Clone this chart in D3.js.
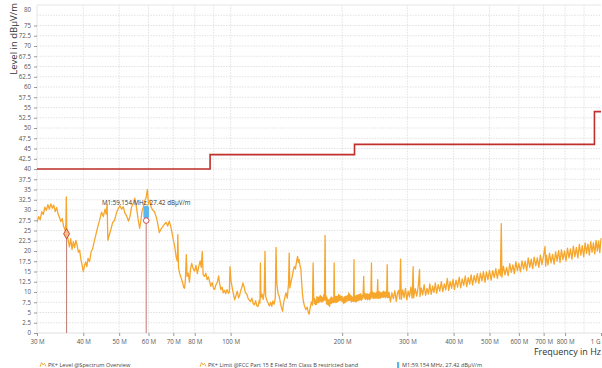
<!DOCTYPE html>
<html><head><meta charset="utf-8">
<script src="https://cdn.jsdelivr.net/npm/d3@7"></script>
<style>
body{margin:0;background:#fff}
svg{display:block}
text{font-family:"Open Sans","Noto Sans",sans-serif}
</style>
</head><body>
<svg id="chart" width="602" height="368"></svg>
<script>
// ---------- data ----------
const xTickValues = [30, 40, 50, 60, 70, 80, 100, 200, 300, 400, 500, 600, 700, 800, 1000];
const xTickLabels = ["30 M", "40 M", "50 M", "60 M", "70 M", "80 M", "100 M", "200 M", "300 M", "400 M", "500 M", "600 M", "700 M", "800 M", "1 G"];
const xGridValues = [40, 50, 60, 70, 80, 90, 100, 200, 300, 400, 500, 600, 700, 800, 900];
const yTickValues = [0, 2.5, 5, 7.5, 10, 12.5, 15, 17.5, 20, 22.5, 25, 27.5, 30, 32.5, 35, 37.5, 40, 42.5, 45, 47.5, 50, 52.5, 55, 57.5, 60, 62.5, 65, 67.5, 70, 72.5, 75];
const yTopLabel = 80;
const yGridValues = [2.5, 5, 7.5, 10, 12.5, 15, 17.5, 20, 22.5, 25, 27.5, 30, 32.5, 35, 37.5, 40, 42.5, 45, 47.5, 50, 52.5, 55, 57.5, 60, 62.5, 65, 67.5, 70, 72.5, 75, 77.5];

const limitFreq  = [30, 88, 88, 216, 216, 960, 960, 1000];
const limitLevel = [40, 40, 43.5, 43.5, 46, 46, 54, 54];

const markerFreq  = [36.06, 59.154];
const markerLevel = [24.2, 27.42];
const m1Label = "M1:59.154 MHz, 27.42 dBμV/m";
const m1BarLevels = [28.0, 31.0];

const legendLabels = ["PK+ Level @Spectrum Overview", "PK+ Limit @FCC Part 15 E Field 3m Class B  restricted band", "M1:59.154 MHz, 27.42 dBμV/m"];

const trace = [
[30.0,27.0],[30.3,28.4],[30.6,27.6],[30.9,29.6],[31.2,28.9],[31.5,30.7],[31.8,29.9],[32.1,31.3],[32.4,30.2],[32.7,31.5],[33.0,30.4],[33.3,31.2],[33.6,29.6],[33.9,30.6],[34.2,29.0],[34.5,28.2],[34.8,27.2],[35.1,27.9],[35.4,26.0],[35.7,25.1],[35.9,26.4],[36.0,33.2],[36.1,24.2],[36.4,22.8],[36.7,21.0],[37.0,23.0],[37.3,20.4],[37.6,22.3],[37.9,20.8],[38.2,22.6],[38.5,21.4],[38.8,19.7],[39.1,20.2],[39.4,18.0],[39.7,16.6],[40.0,15.0],[40.3,16.4],[40.6,17.3],[40.9,16.2],[41.2,18.2],[41.6,17.4],[42.0,19.8],[42.4,20.6],[42.9,22.6],[43.3,24.1],[43.8,26.0],[44.3,27.6],[44.8,29.5],[45.3,28.4],[45.8,30.2],[46.1,29.0],[46.4,31.4],[46.6,22.6],[47.0,23.9],[47.5,25.3],[48.0,26.9],[48.6,27.5],[49.2,29.4],[49.7,30.3],[50.2,31.0],[50.8,30.2],[51.3,30.8],[51.8,29.3],[52.4,28.5],[53.0,27.3],[53.5,28.5],[54.0,30.7],[54.5,31.5],[55.1,32.9],[55.6,31.0],[56.2,28.0],[56.8,25.5],[57.2,27.2],[57.6,29.6],[58.1,30.7],[58.6,32.2],[59.1,33.0],[59.6,35.0],[60.0,31.4],[60.5,32.4],[61.0,30.7],[61.6,30.0],[62.3,29.5],[63.0,28.2],[63.6,26.5],[64.2,24.5],[64.8,25.3],[65.5,25.9],[66.2,26.5],[66.9,27.0],[67.6,26.1],[68.3,27.3],[69.0,25.7],[69.6,24.0],[70.1,22.5],[70.7,20.8],[71.3,18.4],[71.8,17.5],[72.0,24.0],[72.3,16.0],[72.8,14.6],[73.5,13.4],[74.2,12.3],[74.7,11.1],[75.1,10.9],[75.5,13.2],[75.9,19.1],[76.3,13.8],[76.8,14.6],[77.4,12.4],[77.9,15.6],[78.5,17.0],[79.2,15.7],[79.9,15.1],[80.6,16.5],[81.3,14.5],[82.0,16.2],[82.7,17.6],[83.3,16.0],[83.8,19.9],[84.3,14.2],[85.0,13.8],[85.7,14.6],[86.4,13.0],[87.1,13.7],[87.7,12.6],[88.4,11.4],[89.2,12.3],[89.9,10.8],[90.5,10.6],[91.2,11.7],[92.0,12.3],[92.8,13.9],[93.4,12.0],[94.1,10.6],[94.8,11.2],[95.5,9.8],[96.2,10.4],[97.0,9.6],[97.8,10.6],[98.6,9.7],[99.2,10.0],[99.6,16.2],[100.2,12.8],[101.0,11.0],[101.8,9.4],[102.5,8.1],[103.3,9.1],[104.2,10.2],[105.0,8.6],[105.7,9.1],[106.5,10.4],[107.3,11.2],[107.9,12.2],[108.7,11.3],[109.6,9.8],[110.6,9.5],[111.5,8.4],[112.3,8.0],[113.2,7.7],[114.1,8.5],[115.0,7.2],[115.9,6.9],[116.8,7.9],[117.7,6.6],[118.6,6.5],[119.5,8.0],[120.0,7.3],[120.3,17.1],[120.7,8.6],[121.6,9.5],[122.4,8.2],[123.2,9.9],[123.8,19.9],[124.3,9.0],[125.2,8.0],[126.2,7.3],[127.2,6.6],[128.2,7.5],[129.1,6.5],[130.0,7.8],[131.0,7.0],[132.0,8.6],[132.6,20.9],[133.2,12.2],[134.3,9.6],[135.3,8.9],[136.5,7.0],[137.3,6.0],[138.1,5.3],[139.0,7.4],[140.0,8.6],[141.0,9.8],[142.2,8.5],[143.3,12.0],[143.9,19.5],[144.5,11.0],[145.6,12.6],[146.8,14.0],[147.7,15.4],[148.5,16.2],[149.6,15.6],[150.6,17.4],[151.6,18.7],[152.4,17.2],[153.1,17.9],[153.9,16.4],[154.7,15.8],[155.5,12.3],[156.2,9.8],[157.0,8.0],[158.0,6.8],[159.5,5.7],[161.0,6.3],[162.0,5.0],[162.9,4.6],[164.0,6.2],[165.2,7.6],[166.3,6.8],[167.0,17.1],
[167.6,8.6],[168.2,7.2],[168.8,8.4],[169.3,6.9],[169.8,7.9],[170.4,7.0],[171.0,8.9],[171.6,7.4],[172.2,8.6],[172.8,7.4],[173.4,8.8],[174.0,7.6],[174.6,9.2],[175.2,7.8],[175.8,8.9],[176.4,7.5],[177.0,8.7],[177.7,7.8],[178.5,9.4],[179.2,8.0],[179.9,23.8],[180.4,8.0],[181.0,9.1],[181.5,7.1],[182.0,8.6],[182.6,7.0],[183.2,8.2],[183.8,6.8],[184.4,8.0],[185.0,6.5],[185.6,8.4],[186.2,7.2],[186.8,8.8],[187.4,7.3],[188.0,8.6],[188.6,7.5],[189.2,8.3],[189.8,7.4],[190.3,17.1],[190.8,7.6],[191.5,8.9],[192.2,7.4],[192.9,8.9],[193.6,7.5],[194.3,9.0],[195.0,7.7],[195.7,9.4],[196.4,7.9],[197.1,9.2],[197.8,8.0],[198.5,9.0],[199.2,7.8],[199.9,8.9],[200.6,7.6],[201.3,8.5],[202.0,7.2],[202.7,8.8],[203.4,7.4],[204.1,8.9],[204.8,7.6],[205.5,9.0],[206.3,7.8],[207.0,9.2],[207.7,8.0],[208.4,9.8],[209.1,7.9],[209.8,9.4],[210.5,8.0],[211.2,9.1],[211.9,7.6],[212.6,8.9],[213.3,7.8],[214.0,8.6],[214.7,7.7],[215.3,17.9],[215.8,7.8],[216.6,9.0],[217.4,7.6],[218.2,9.1],[219.0,7.7],[219.8,9.3],[220.6,7.9],[221.4,9.3],[222.2,8.0],[223.0,9.4],[223.8,8.1],[224.6,9.6],[225.4,8.0],[226.2,9.2],[227.0,8.3],[227.8,9.2],[228.7,13.8],[229.4,8.6],[230.2,9.7],[231.0,8.2],[231.8,9.5],[232.6,8.4],[233.4,9.6],[234.2,8.1],[235.0,9.4],[235.8,8.3],[236.6,9.5],[237.4,8.1],[238.2,9.8],[239.0,8.4],[240.0,17.1],[240.6,8.8],[241.4,10.0],[242.2,8.5],[243.0,9.8],[243.8,8.4],[244.6,9.8],[245.4,8.6],[246.2,9.6],[247.0,8.5],[247.8,9.9],[248.6,8.6],[249.5,13.0],[250.3,8.4],[251.1,10.1],[251.9,8.6],[252.7,10.0],[253.5,8.5],[254.3,9.8],[255.1,8.7],[255.9,9.8],[256.7,8.8],[257.5,10.0],[258.3,8.7],[259.1,10.2],[259.9,8.9],[260.7,9.9],[261.5,8.6],[262.3,10.0],[263.1,8.8],[263.9,10.1],[264.7,16.7],[265.4,8.6],[266.2,9.9],[267.0,8.7],[267.8,9.9],[268.8,8.8],
[270,7.6],[272.5,9.8],[275,8.4],[277.5,10.3],[280,7.7],[282,9.6],[284,10.4],[286,8.3],[287.6,18.0],[289,8.2],[291.5,10.5],[294,8.6],[296.5,10.9],[299,8.1],[301.5,10.2],[304,8.8],[306.5,11.2],[309,8.5],[311,16.2],[312,8.6],[315,10.8],[318,9.0],[321,11.4],[323.6,15.5],[324.5,8.9],[327,11.0],[330,9.3],[333,11.8],[336,9.2],[339,10.9],[342,9.5],[345,12.0],[348,9.4],[351,11.4],[354,9.9],[357,12.2],[360,9.7],[363.5,11.8],[367,10.2],[370.5,12.5],[374,10.1],[377.5,12.0],[381,10.5],[384.5,13.3],[388,10.4],[391.5,12.6],[395,10.9],[398.5,13.1],[402,10.6],[406,12.9],[410,11.2],[414,13.6],[418,11.0],[422,13.2],[426,11.6],[430,13.9],[434,11.3],[438,13.5],[442,11.9],[446,14.2],[450,11.7],[454.5,14.0],[459,12.3],[463.5,14.5],[468,12.1],[472.5,14.6],[477,12.7],[481.5,15.0],[486,12.4],[490.5,14.9],[495,13.0],[500,15.3],[505,12.9],[510,15.2],[515,13.5],[520,15.7],[525,13.3],[530,15.5],[535,14.0],[538,26.7],[540,13.6],[545,16.3],[550.5,14.2],[556,16.0],[561.5,14.0],[567,16.9],[572.5,14.8],[578,16.6],[583.5,14.5],[589,17.4],[594.5,15.2],[600,17.0],[606,14.9],[612,17.6],[618,15.6],[624,17.5],[630,15.2],[636,18.3],[642,16.0],[648,18.0],[654,15.7],[660,18.5],[666.5,16.4],[673,18.3],[679.5,16.0],[686,19.0],[692.5,16.7],[699,18.6],[706,21.1],[709,16.3],[712,19.0],[719,16.6],[726,19.5],[733,17.1],[740,19.2],[747,16.8],[754,19.8],[761,17.5],[768,20.1],[775,17.2],[782,20.3],[789.5,17.9],[797,20.0],[804.5,17.6],[812,20.7],[819.5,18.3],[827,20.5],[834.5,18.0],[842,21.2],[850,18.6],[858,20.9],[866,18.3],[874,21.6],[882,19.0],[890,21.3],[898,18.6],[906,22.0],[914,19.4],[922,21.7],[930,19.0],[938,22.3],[946,19.7],[954,22.0],[962,19.3],[970,22.6],[977.5,20.0],[985,22.4],[992.5,19.6],[1000,23.1]
];

// ---------- drawing ----------
const svg = d3.select("#chart");
const x = d3.scaleLog().domain([30, 1000]).range([37, 601]);
const y = d3.scaleLinear().domain([0, 80]).range([333, 5]);

const gridColor = "#e2e2e2";
svg.append("g").selectAll("line").data(yGridValues).join("line")
  .attr("x1", x(30)).attr("x2", x(1000))
  .attr("y1", d => y(d)).attr("y2", d => y(d))
  .attr("stroke", gridColor).attr("stroke-dasharray", "1.5,1.2");
svg.append("g").selectAll("line").data(xGridValues).join("line")
  .attr("x1", d => x(d)).attr("x2", d => x(d))
  .attr("y1", y(0)).attr("y2", y(80))
  .attr("stroke", gridColor).attr("stroke-dasharray", "1.5,1.2");
svg.append("line").attr("x1", x(30)).attr("x2", x(1000)).attr("y1", y(80)).attr("y2", y(80)).attr("stroke", "#e6e6e6");
svg.append("line").attr("x1", x(30)).attr("x2", x(1000)).attr("y1", y(0)).attr("y2", y(0)).attr("stroke", "#e0e0e0");
svg.append("line").attr("x1", x(30)).attr("x2", x(30)).attr("y1", y(0)).attr("y2", y(80)).attr("stroke", "#e6e6e6");

// y axis
const yAxis = svg.append("g").attr("transform", `translate(${x(30)},0)`)
  .call(d3.axisLeft(y).tickValues(yTickValues).tickSize(3).tickPadding(3).tickFormat(d => String(d)));
yAxis.select(".domain").remove();
yAxis.selectAll(".tick line").attr("stroke", "#9a9a9a");
yAxis.selectAll(".tick text").attr("font-size", 6.2).attr("fill", "#555").attr("font-family", "Open Sans, Noto Sans, sans-serif");
svg.append("text").attr("x", x(30) - 6).attr("y", y(yTopLabel) + 4.7).attr("dy", "0.32em")
  .attr("text-anchor", "end").attr("font-size", 6.2).attr("fill", "#555").text(String(yTopLabel));

// x axis
const xAxis = svg.append("g").attr("transform", `translate(0,${y(0)})`)
  .call(d3.axisBottom(x).tickValues(xTickValues).tickSize(3).tickPadding(4)
    .tickFormat((d, i) => xTickLabels[i]));
xAxis.select(".domain").remove();
xAxis.selectAll(".tick line").attr("stroke", "#9a9a9a");
xAxis.selectAll(".tick text").attr("font-size", 6.2).attr("fill", "#555").attr("font-family", "Open Sans, Noto Sans, sans-serif");
xAxis.selectAll(".tick text").filter(d => d === 1000).attr("text-anchor", "end").attr("dx", -1);

// axis titles
svg.append("text").attr("transform", "translate(17,3) rotate(-90)")
  .attr("text-anchor", "end").attr("font-size", 9.5).attr("fill", "#333").text("Level in dBμV/m");
svg.append("text").attr("x", 601).attr("y", 355).attr("text-anchor", "end")
  .attr("font-size", 9).attr("fill", "#333").text("Frequency in Hz");

svg.append("clipPath").attr("id", "plotclip").append("rect")
  .attr("x", x(30)).attr("y", y(80)).attr("width", x(1000) - x(30) + 1).attr("height", y(0) - y(80));

// limit line
const limitData = limitFreq.map((f, i) => [f, limitLevel[i]]);
svg.append("path").datum(limitData)
  .attr("d", d3.line().x(d => x(d[0])).y(d => y(d[1])))
  .attr("fill", "none").attr("stroke", "#bf2f2b").attr("stroke-width", 1.6);

// trace
svg.append("path").datum(trace).attr("clip-path", "url(#plotclip)")
  .attr("d", d3.line().x(d => x(d[0])).y(d => y(d[1])))
  .attr("fill", "none").attr("stroke", "#f7a62c").attr("stroke-width", 1.3)
  .attr("stroke-linejoin", "round");

// marker lines
svg.append("g").selectAll("line").data(markerFreq).join("line")
  .attr("x1", d => x(d)).attr("x2", d => x(d))
  .attr("y1", (d, i) => y(markerLevel[i])).attr("y2", y(0))
  .attr("stroke", "#bf7a74").attr("stroke-width", 1);

svg.append("path")
  .attr("d", d3.symbol().type(d3.symbolDiamond).size(30)())
  .attr("transform", `translate(${x(markerFreq[0])},${y(markerLevel[0])})`)
  .attr("fill", "#f6c08a").attr("stroke", "#d2452f").attr("stroke-width", 1);

svg.append("rect")
  .attr("x", x(markerFreq[1]) - 2.8).attr("width", 5.6)
  .attr("y", y(m1BarLevels[1])).attr("height", y(m1BarLevels[0]) - y(m1BarLevels[1]))
  .attr("rx", 1.5).attr("fill", "#5bb6ee");
svg.append("circle").attr("cx", x(markerFreq[1])).attr("cy", y(markerLevel[1])).attr("r", 2.8)
  .attr("fill", "#fff").attr("stroke", "#d24a4a").attr("stroke-width", 1);
svg.append("text").attr("x", x(markerFreq[1])).attr("y", y(m1BarLevels[1]) - 0.5)
  .attr("text-anchor", "middle").attr("font-size", 6.2).attr("fill", "#333").text(m1Label);

// legend
const legY = 367;
const legItems = [
  {x: 40, type: "wave", color: "#f2b24a"},
  {x: 200, type: "wave", color: "#f2b24a"},
  {x: 397, type: "bar", color: "#5bb6ee"}
];
legItems.forEach((it, i) => {
  if (it.type === "wave") {
    svg.append("path").attr("d", `M${it.x},${legY} l1.5,-4.5 l1.5,2.5 l1.5,-1.5 l1.5,3`)
      .attr("fill", "none").attr("stroke", it.color).attr("stroke-width", 1);
    svg.append("text").attr("x", it.x + 8).attr("y", legY).attr("font-size", 5.6)
      .attr("fill", "#444").text(legendLabels[i]);
  } else {
    svg.append("rect").attr("x", it.x).attr("y", legY - 5).attr("width", 2.2).attr("height", 6)
      .attr("fill", it.color);
    svg.append("text").attr("x", it.x + 5).attr("y", legY).attr("font-size", 5.6)
      .attr("fill", "#444").text(legendLabels[i]);
  }
});
</script>
</body></html>
